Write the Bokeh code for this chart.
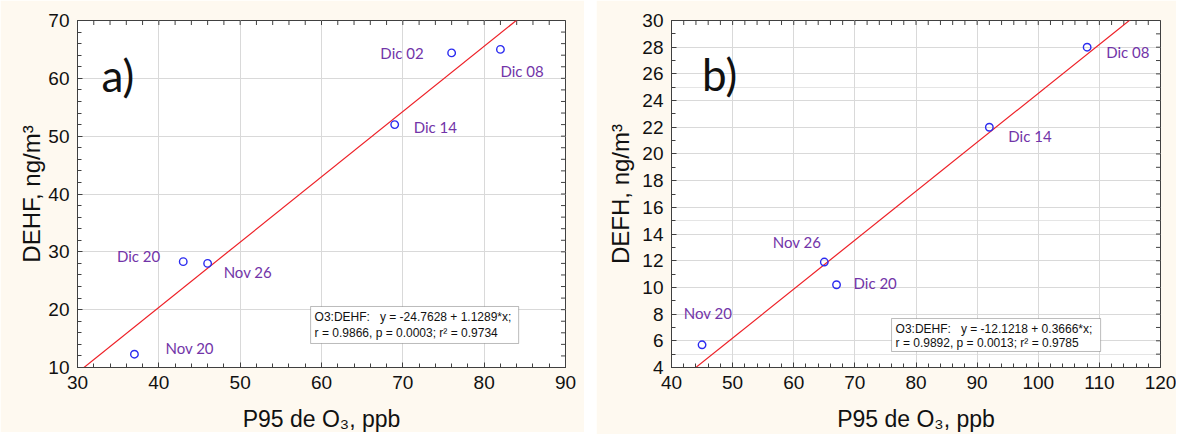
import numpy as np
from bokeh.plotting import figure
from bokeh.layouts import row
from bokeh.models import (ColumnDataSource, Label, BoxAnnotation, LinearAxis,
                          Range1d, SingleIntervalTicker, Grid)
from bokeh.core.properties import value
from bokeh.embed import file_html
from bokeh.resources import INLINE

# ---------------- data ----------------
# panel a
a_dates = ["Nov 20", "Dic 20", "Nov 26", "Dic 14", "Dic 02", "Dic 08"]
a_o3 = [37, 43, 46, 69, 76, 82]
a_dehf = [12.3, 28.3, 28.0, 52.0, 64.4, 65.0]
a_intercept, a_slope = -24.7628, 1.1289
a_stats = ["O3:DEHF:\u00a0\u00a0\u00a0y = -24.7628 + 1.1289*x;",
           "r = 0.9866, p = 0.0003; r\u00b2 = 0.9734"]

# panel b
b_dates = ["Nov 20", "Nov 26", "Dic 20", "Dic 14", "Dic 08"]
b_o3 = [45, 65, 67, 92, 108]
b_defh = [5.7, 11.9, 10.2, 22.0, 28.0]
b_intercept, b_slope = -12.1218, 0.3666
b_stats = ["O3:DEHF:\u00a0\u00a0\u00a0y = -12.1218 + 0.3666*x;",
           "r = 0.9892, p = 0.0013; r\u00b2 = 0.9785"]

x_title = "P95 de O\u2083, ppb"
a_y_title = "DEHF, ng/m\u00b3"
b_y_title = "DEFH, ng/m\u00b3"

# ---------------- styles ----------------
CREAM = "#FEF9F0"
PURPLE = "#7234A8"
BLUE = "#2B2BF0"
RED = "#EE2027"
FRAME = "#404040"
GRID = "#D9D9D9"
AXFONT = "Liberation Sans"
LBLFONT = "Lato"

# label offsets (pixels) and alignment
a_dx = [31, -23, 16, 19, -28, 0]
a_dy = [-6, -6, 9, 2, 0, 22]
a_align = ["left", "right", "left", "left", "right", "left"]

b_dx = [6, -3, 17, 19, 19]
b_dy = [-32, -20, -2, 9, 5]
b_align = ["center", "right", "left", "left", "left"]


def make_panel(xs, ys, names, dx, dy, align, xr, yr, xint, yint, xminor, yminor,
               intercept, slope, ytitle, letter, letter_xy, box, lines, line_y,
               borders, frame_w, frame_h, y_label_standoff):
    left, right, top, bottom = borders
    p = figure(frame_width=frame_w, frame_height=frame_h,
               x_range=Range1d(*xr), y_range=Range1d(*yr),
               output_backend="svg", toolbar_location=None,
               min_border_left=left, min_border_right=right,
               min_border_top=top, min_border_bottom=bottom,
               x_axis_location=None, y_axis_location=None)
    p.border_fill_color = CREAM
    p.background_fill_color = "white"
    p.outline_line_color = FRAME
    p.outline_line_width = 1

    xt = SingleIntervalTicker(interval=xint, num_minor_ticks=xminor)
    yt = SingleIntervalTicker(interval=yint, num_minor_ticks=yminor)

    def style(ax):
        ax.axis_line_color = FRAME
        ax.major_tick_line_color = FRAME
        ax.minor_tick_line_color = FRAME
        ax.major_tick_in = 5
        ax.major_tick_out = 0
        ax.minor_tick_in = 4
        ax.minor_tick_out = 0
        ax.major_label_text_font = AXFONT
        ax.major_label_text_font_size = "19px"
        ax.major_label_text_color = "#111111"
        ax.major_label_standoff = 8
        ax.axis_label_text_font = AXFONT
        ax.axis_label_text_font_style = "normal"
        ax.axis_label_text_color = "#111111"

    xb = LinearAxis(ticker=xt, axis_label=x_title)
    style(xb)
    xb.axis_label_text_font_size = "23px"
    xb.axis_label_standoff = 14
    yl = LinearAxis(ticker=yt, axis_label=ytitle)
    style(yl)
    yl.axis_label_text_font_size = "24px"
    yl.axis_label_standoff = y_label_standoff
    p.add_layout(xb, "below")
    p.add_layout(yl, "left")

    p.add_layout(Grid(dimension=0, ticker=xt, grid_line_color=GRID))
    p.add_layout(Grid(dimension=1, ticker=yt, grid_line_color=GRID))

    # inward ticks on the top and right edges of the frame (clipped dashes)
    xstep = xint / xminor
    ystep = yint / yminor
    tx = np.arange(xr[0], xr[1] + xstep / 2, xstep)
    ty = np.arange(yr[0], yr[1] + ystep / 2, ystep)
    p.scatter(tx, np.full(len(tx), yr[1]), marker="dash", angle=np.pi / 2,
              size=9, line_color=FRAME, line_width=1)
    p.scatter(np.full(len(ty), xr[1]), ty, marker="dash",
              size=9, line_color=FRAME, line_width=1)

    # regression line across the axis range
    lx = [xr[0], xr[1]]
    ly = [intercept + slope * v for v in lx]
    p.line(lx, ly, line_color=RED, line_width=1.2)

    src = ColumnDataSource(dict(x=xs, y=ys, name=names, dx=dx, dy=dy, align=align))
    p.scatter("x", "y", source=src, marker="circle", size=7.5, fill_color=None,
              line_color=BLUE, line_width=1.4)
    p.text("x", "y", text="name", source=src, x_offset="dx", y_offset="dy",
           text_align="align", text_baseline="middle",
           text_font=value(LBLFONT), text_font_size="15px", text_color=PURPLE)

    p.add_layout(Label(x=letter_xy[0], y=letter_xy[1], text=letter,
                       text_font=LBLFONT, text_font_size="44px",
                       text_color="#111111", text_baseline="alphabetic"))

    bl, br, bt, bb = box
    p.add_layout(BoxAnnotation(left=bl, right=br, top=bt, bottom=bb,
                               fill_color="white", fill_alpha=1.0,
                               line_color="#222222", line_width=1))
    for txt, yy in zip(lines, line_y):
        p.add_layout(Label(x=bl, y=yy, x_offset=4, text=txt, text_font=AXFONT,
                           text_font_size="12px", text_color="#111111",
                           text_baseline="middle"))
    return p


pa = make_panel(a_o3, a_dehf, a_dates, a_dx, a_dy, a_align,
                (30, 90), (10, 70), 10, 10, 5, 5,
                a_intercept, a_slope, a_y_title, "a)", (32.95, 60.5),
                (58.66, 84.24, 20.55, 14.15), a_stats, (18.65, 16.05),
                (77, 19, 18, 66), 488, 347, 0)

pb = make_panel(b_o3, b_defh, b_dates, b_dx, b_dy, b_align,
                (40, 120), (4, 30), 10, 2, 5, 2,
                b_intercept, b_slope, b_y_title, "b)", (45.0, 26.0),
                (76.0, 110.2, 7.67, 5.2), b_stats, (6.92, 5.87),
                (75, 16, 20, 64), 489, 347, 5)

layout = row(pa, pb, spacing=12)
open("out.html", "w").write(file_html(layout, INLINE))
